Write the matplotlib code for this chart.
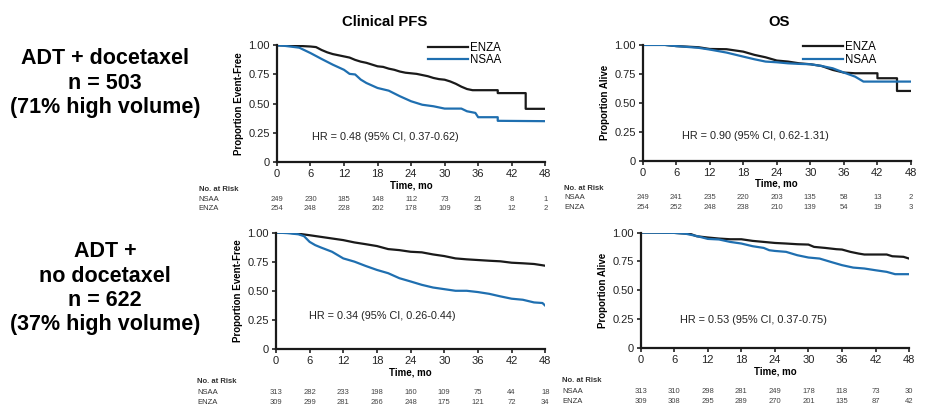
import matplotlib
matplotlib.use("Agg")
import matplotlib.pyplot as plt

plt.rcParams['font.family'] = ['Liberation Sans', 'DejaVu Sans']

BLACK = "#1a1a1a"
BLUE = "#1f6fb0"

# --- data (repeated times = vertical drops) ---
ticks = [0, 6, 12, 18, 24, 30, 36, 42, 48]

# ADT + docetaxel, clinical PFS
pfs_doc_t = [0, 2, 4, 6, 7, 8, 9, 10, 11, 12, 13, 14, 15, 16, 17, 18, 19, 20, 21, 22, 23, 24,
             25, 26, 27, 28, 29, 30, 31, 32, 33, 34, 35, 39.5, 39.5, 44.5, 44.5, 48]
pfs_doc_enza = [1.0, 1.0, 0.995, 0.99, 0.985, 0.96, 0.94, 0.925, 0.915, 0.905, 0.895, 0.875,
                0.86, 0.85, 0.835, 0.82, 0.815, 0.80, 0.79, 0.775, 0.765, 0.76, 0.755, 0.745,
                0.735, 0.72, 0.71, 0.705, 0.69, 0.67, 0.645, 0.625, 0.615, 0.615, 0.59, 0.59,
                0.455, 0.455]
pfs_doc_nsaa_t = [0, 1.5, 4, 6, 8, 10, 12, 13, 14, 15, 16, 18, 20, 22, 24, 26, 28, 30, 33, 34,
                  35.5, 36, 39.5, 39.5, 48]
pfs_doc_nsaa = [1.0, 0.995, 0.98, 0.934, 0.883, 0.834, 0.79, 0.755, 0.75, 0.706, 0.677, 0.634,
                0.611, 0.563, 0.52, 0.49, 0.477, 0.457, 0.457, 0.434, 0.42, 0.383, 0.383,
                0.352, 0.349]

# ADT + docetaxel, OS
os_doc_t = [0, 4, 6, 10, 12, 15, 18, 20, 22, 24, 26, 28, 30, 32, 34, 36, 38, 42, 42, 45.5,
            45.5, 48]
os_doc_enza = [1.0, 1.0, 0.99, 0.98, 0.965, 0.963, 0.942, 0.914, 0.893, 0.865, 0.856, 0.841,
               0.833, 0.818, 0.784, 0.761, 0.755, 0.755, 0.712, 0.712, 0.602, 0.602]
os_doc_nsaa_t = [0, 4, 6, 10, 12, 15, 18, 20, 22, 24, 26, 28, 30, 32, 34, 36, 38, 39.5, 48]
os_doc_nsaa = [1.0, 1.0, 0.99, 0.975, 0.96, 0.934, 0.899, 0.876, 0.856, 0.85, 0.841, 0.836,
               0.833, 0.818, 0.798, 0.761, 0.726, 0.683, 0.683]

# ADT + no docetaxel, clinical PFS
pfs_nodoc_t = [0, 2, 4, 6, 8, 10, 12, 14, 16, 18, 20, 22, 24, 26, 28, 30, 32, 34, 36, 38, 40,
               42, 44, 46, 47.5, 48]
pfs_nodoc_enza = [1.0, 1.0, 0.99, 0.977, 0.963, 0.949, 0.935, 0.915, 0.90, 0.884, 0.858, 0.849,
                  0.835, 0.83, 0.812, 0.798, 0.778, 0.77, 0.764, 0.758, 0.753, 0.741, 0.736,
                  0.73, 0.719, 0.715]
pfs_nodoc_nsaa_t = [0, 2, 4, 5, 6, 7, 8, 10, 12, 14, 16, 18, 20, 22, 24, 26, 28, 30, 32, 34, 36,
                    38, 40, 42, 44, 46, 47.5, 48]
pfs_nodoc_nsaa = [1.0, 0.995, 0.985, 0.969, 0.92, 0.892, 0.872, 0.835, 0.778, 0.75, 0.713,
                  0.679, 0.651, 0.608, 0.58, 0.551, 0.528, 0.514, 0.50, 0.50, 0.489, 0.474,
                  0.452, 0.432, 0.423, 0.40, 0.395, 0.372]

# ADT + no docetaxel, OS
os_nodoc_t = [0, 3, 6, 8, 9, 10, 12, 14, 16, 18, 20, 22, 24, 26, 28, 30, 31, 33, 35, 36, 37.5,
              39, 40, 44, 45, 47, 48]
os_nodoc_enza = [1.0, 1.0, 0.997, 0.991, 0.986, 0.968, 0.957, 0.948, 0.942, 0.942, 0.928, 0.919,
                 0.91, 0.905, 0.899, 0.896, 0.876, 0.867, 0.856, 0.853, 0.833, 0.818, 0.81,
                 0.81, 0.795, 0.79, 0.775]
os_nodoc_nsaa_t = [0, 6, 8, 10, 12, 14, 16, 18, 20, 22, 23, 24, 26, 28, 30, 32, 34, 36, 38, 40,
                   42, 44, 45.5, 48]
os_nodoc_nsaa = [1.0, 0.997, 0.99, 0.97, 0.945, 0.94, 0.919, 0.905, 0.882, 0.867, 0.847, 0.841,
                 0.833, 0.804, 0.784, 0.775, 0.746, 0.718, 0.697, 0.689, 0.674, 0.66, 0.64, 0.64]

# numbers at risk
risk_pfs_doc_nsaa = [249, 230, 185, 148, 112, 73, 21, 8, 1]
risk_pfs_doc_enza = [254, 248, 228, 202, 178, 109, 35, 12, 2]
risk_os_doc_nsaa = [249, 241, 235, 220, 203, 135, 58, 13, 2]
risk_os_doc_enza = [254, 252, 248, 238, 210, 139, 54, 19, 3]
risk_pfs_nodoc_nsaa = [313, 282, 233, 198, 160, 109, 75, 44, 18]
risk_pfs_nodoc_enza = [309, 299, 281, 266, 248, 175, 121, 72, 34]
risk_os_nodoc_nsaa = [313, 310, 298, 281, 249, 178, 118, 73, 30]
risk_os_nodoc_enza = [309, 308, 295, 289, 270, 201, 135, 87, 42]

hr_texts = ["HR = 0.48 (95% CI, 0.37-0.62)", "HR = 0.90 (95% CI, 0.62-1.31)",
            "HR = 0.34 (95% CI, 0.26-0.44)", "HR = 0.53 (95% CI, 0.37-0.75)"]

fig = plt.figure(figsize=(9.45, 4.16), dpi=100)


def km_panel(rect, ylabel, enza, nsaa, risk, hr, hr_pos, risk_y, legend_x=None):
    ax = fig.add_axes(rect)
    ax.plot(enza[0], enza[1], color=BLACK, lw=1.6, label="ENZA")
    ax.plot(nsaa[0], nsaa[1], color=BLUE, lw=1.6, label="NSAA")
    ax.set_xlim(0, 48)
    ax.set_ylim(0, 1.0)
    ax.set_xticks(ticks)
    ax.set_yticks([0, 0.25, 0.5, 0.75, 1.0])
    ax.set_yticklabels(["0", "0.25", "0.50", "0.75", "1.00"])
    for s in ["top", "right"]:
        ax.spines[s].set_visible(False)
    for s in ["left", "bottom"]:
        ax.spines[s].set_linewidth(1.6)
        ax.spines[s].set_color(BLACK)
    ax.tick_params(labelsize=8, length=3, width=1.2, pad=2, colors="#222222")
    ax.set_ylabel(ylabel, fontsize=7, fontweight="bold", labelpad=3)
    ax.set_xlabel("Time, mo", fontsize=7, fontweight="bold", labelpad=1)
    ax.text(hr_pos[0], hr_pos[1], hr, fontsize=7.8, va="center", color="#222222")
    if legend_x is not None:
        ax.legend(loc="upper left", bbox_to_anchor=(legend_x, 1.08), frameon=False, fontsize=8.3,
                  handlelength=3.5, handletextpad=0.2, labelspacing=0.05, borderpad=0)
    tr = ax.get_xaxis_transform()
    ax.text(-14, risk_y[0], "No. at Risk", transform=tr, fontsize=5.5, fontweight="bold",
            va="center", ha="left", color="#333333")
    ax.text(-14, risk_y[1], "NSAA", transform=tr, fontsize=5.5, va="center", ha="left",
            color="#333333")
    ax.text(-14, risk_y[2], "ENZA", transform=tr, fontsize=5.5, va="center", ha="left",
            color="#333333")
    for t, a, b in zip(ticks, risk[0], risk[1]):
        ax.text(t, risk_y[1], str(a), transform=tr, fontsize=5.5, ha="center", va="center",
                color="#444444", clip_on=False)
        ax.text(t, risk_y[2], str(b), transform=tr, fontsize=5.5, ha="center", va="center",
                color="#444444", clip_on=False)
    return ax


top_y = [-0.24, -0.32, -0.405]
bot_y = [-0.28, -0.375, -0.46]

km_panel([0.293, 0.611, 0.284, 0.280], "Proportion Event-Free",
         (pfs_doc_t, pfs_doc_enza), (pfs_doc_nsaa_t, pfs_doc_nsaa),
         (risk_pfs_doc_nsaa, risk_pfs_doc_enza), hr_texts[0], (6.2, 0.215), top_y,
         legend_x=0.54)
km_panel([0.680, 0.614, 0.284, 0.278], "Proportion Alive",
         (os_doc_t, os_doc_enza), (os_doc_nsaa_t, os_doc_nsaa),
         (risk_os_doc_nsaa, risk_os_doc_enza), hr_texts[1], (7.0, 0.213), top_y,
         legend_x=0.575)
km_panel([0.292, 0.161, 0.285, 0.280], "Proportion Event-Free",
         (pfs_nodoc_t, pfs_nodoc_enza), (pfs_nodoc_nsaa_t, pfs_nodoc_nsaa),
         (risk_pfs_nodoc_nsaa, risk_pfs_nodoc_enza), hr_texts[2], (5.9, 0.28), bot_y)
km_panel([0.678, 0.163, 0.284, 0.278], "Proportion Alive",
         (os_nodoc_t, os_nodoc_enza), (os_nodoc_nsaa_t, os_nodoc_nsaa),
         (risk_os_nodoc_nsaa, risk_os_nodoc_enza), hr_texts[3], (7.0, 0.242), bot_y)

fig.text(0.407, 0.947, "Clinical PFS", fontsize=10.7, fontweight="bold", ha="center",
         va="center")
fig.text(0.825, 0.947, "OS", fontsize=10.7, fontweight="bold", ha="center", va="center")

fig.text(0.111, 0.80, "ADT + docetaxel\nn = 503\n(71% high volume)", fontsize=15.5,
         fontweight="bold", ha="center", va="center", linespacing=1.2)
fig.text(0.111, 0.307, "ADT +\nno docetaxel\nn = 622\n(37% high volume)", fontsize=15.5,
         fontweight="bold", ha="center", va="center", linespacing=1.2)

fig.savefig("out.png", dpi=100)
